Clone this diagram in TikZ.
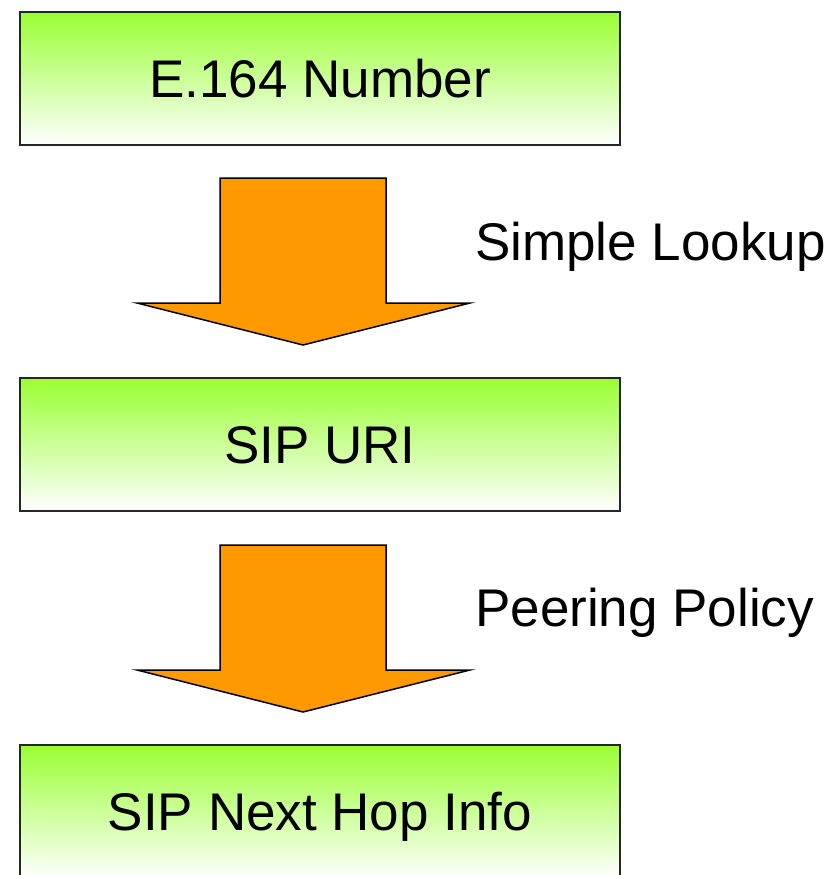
\documentclass[tikz,border=0pt]{standalone}
\usepackage{fontspec}
\setmainfont{Liberation Sans}
\definecolor{limegreen}{RGB}{153,255,51}
\definecolor{amber}{RGB}{255,153,0}
\begin{document}
\begin{tikzpicture}[x=1pt,y=-1pt,
	every node/.style={font=\fontsize{53}{60}\selectfont,text height=38pt,text depth=0pt,inner sep=0pt},
	stage/.style={draw=black!85,line width=2pt,minimum width=600pt,minimum height=133pt,top color=limegreen,bottom color=white},
	blockarrow/.style={draw=black,line width=1.5pt,fill=amber,line join=miter}]
	\useasboundingbox (0,0) rectangle (832,875);
	\node[stage] (e164) at (320,78.5) {E.164 Number};
	\node[stage] (uri) at (320,444.5) {SIP URI};
	\node[stage] (hop) at (320,811.5) {SIP Next Hop Info};
	\foreach \y in {0,367}
		\draw[blockarrow] (220,178+\y) -- (386,178+\y) -- (386,303+\y) -- (470,303+\y)
			-- (303,345+\y) -- (137,303+\y) -- (220,303+\y) -- cycle;
	\node[anchor=west] (lookup) at (475,241) {Simple Lookup};
	\node[anchor=west] (policy) at (475,607) {Peering Policy};
\end{tikzpicture}
\end{document}
